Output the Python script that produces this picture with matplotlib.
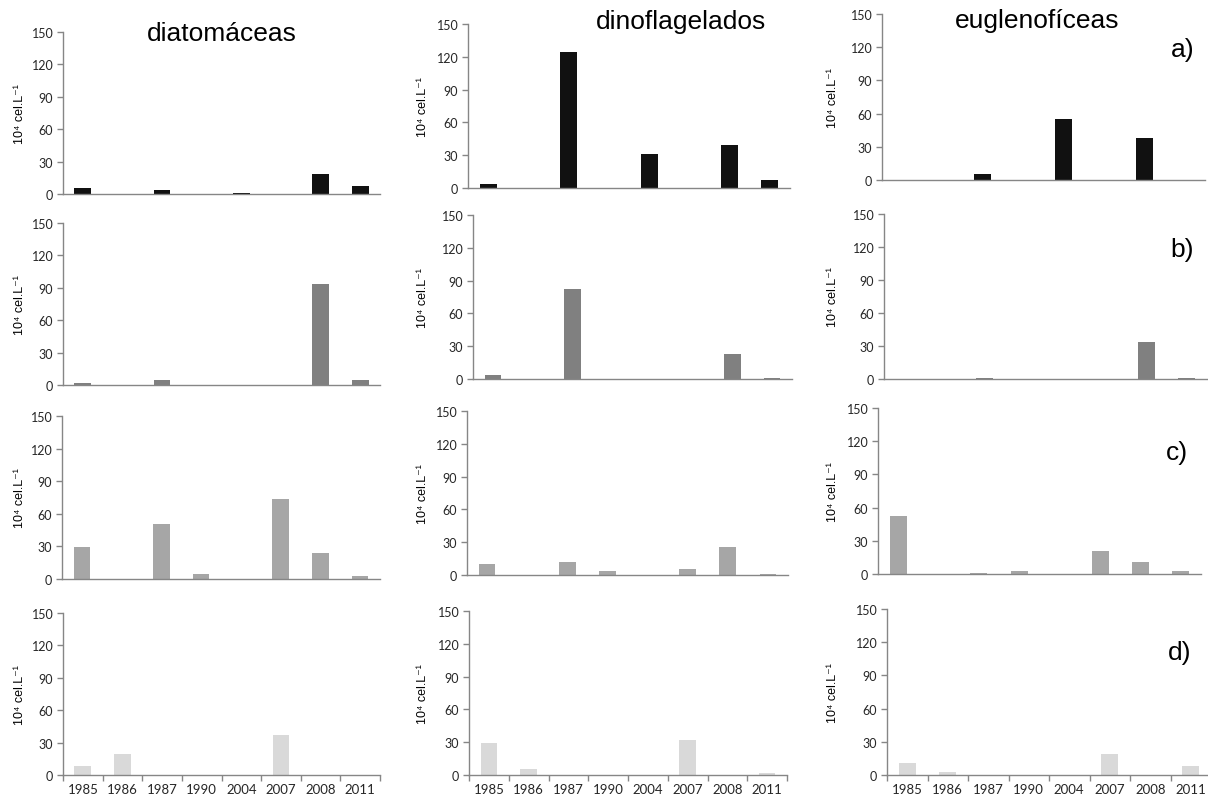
import numpy as np
import matplotlib
matplotlib.use("Agg")
import matplotlib.pyplot as plt

W, H = 1208, 803

years = ["1985", "1986", "1987", "1990", "2004", "2007", "2008", "2011"]
groups = ["diatomáceas", "dinoflagelados", "euglenofíceas"]
panel_tags = ["a)", "b)", "c)", "d)"]
row_colors = ["#111111", "#808080", "#a6a6a6", "#d9d9d9"]

# values in 10^4 cel.L-1, per row (a-d) and group
diato_a = [5.3, 0, 3.4, 0, 0.5, 0, 18.9, 7.1]
dino_a = [3.3, 0, 124.4, 0, 31.3, 0, 38.9, 7.0]
eugl_a = [0.3, 0, 5.4, 0, 55.1, 0, 38.0, 0.3]

diato_b = [1.5, 0, 4.3, 0, 0, 0, 93.2, 4.3]
dino_b = [3.3, 0, 82.1, 0, 0, 0, 22.8, 0.8]
eugl_b = [0.2, 0, 0.8, 0, 0, 0, 33.9, 0.8]

diato_c = [29.5, 0, 50.4, 4.6, 0, 73.8, 23.7, 2.5]
dino_c = [10.0, 0, 11.9, 3.4, 0, 5.2, 25.6, 0.8]
eugl_c = [52.5, 0, 1.2, 2.4, 0, 20.5, 10.9, 2.4]

diato_d = [8.6, 19.8, 0, 0, 0, 37.3, 0, 0.3]
dino_d = [29.5, 5.5, 0, 0, 0, 32.2, 0, 1.8]
eugl_d = [10.6, 2.7, 0, 0, 0, 19.0, 0, 8.5]

data = [
    [diato_a, dino_a, eugl_a],
    [diato_b, dino_b, eugl_b],
    [diato_c, dino_c, eugl_c],
    [diato_d, dino_d, eugl_d],
]

# pixel boxes of each plot area: (left, top at 150, right, bottom at 0)
boxes = [
    [(63, 33, 380, 195), (468, 25, 790, 189), (882, 15, 1205, 181)],
    [(63, 224, 380, 386), (473, 216, 792, 380), (884, 215, 1207, 380)],
    [(62, 417, 380, 580), (467, 412, 788, 576), (878, 409, 1201, 575)],
    [(63, 614, 380, 776), (469, 612, 787, 776), (887, 610, 1211, 776)],
]

tick_font = ["Lato", "DejaVu Sans"]
text_font = ["Liberation Sans", "DejaVu Sans"]
spine_col = "#868686"

fig = plt.figure(figsize=(W / 100, H / 100), dpi=100)

x = np.arange(len(years))
for r in range(4):
    for c in range(3):
        l, t, rr, b = boxes[r][c]
        ax = fig.add_axes([l / W, 1 - b / H, (rr - l) / W, (b - t) / H])
        ax.bar(x, data[r][c], width=0.42, color=row_colors[r], edgecolor="none")
        ax.set_xlim(-0.5, len(years) - 0.5)
        ax.set_ylim(0, 150)
        ax.set_yticks([0, 30, 60, 90, 120, 150])
        for s in ["top", "right"]:
            ax.spines[s].set_visible(False)
        for s in ["left", "bottom"]:
            ax.spines[s].set_color(spine_col)
            ax.spines[s].set_linewidth(1.0)
        ax.tick_params(axis="y", direction="out", length=4, width=1,
                       color=spine_col, labelsize=9, labelcolor="#262626", pad=3)
        for lab in ax.get_yticklabels():
            lab.set_family(tick_font)
        if r == 3:
            ax.set_xticks(x)
            ax.set_xticklabels(years)
            ax.set_xticks(np.arange(-0.5, len(years)), minor=True)
            ax.tick_params(axis="x", which="major", length=0, labelsize=9.5,
                           labelcolor="#262626", pad=6)
            ax.tick_params(axis="x", which="minor", direction="out", length=4,
                           width=1, color=spine_col)
            for lab in ax.get_xticklabels():
                lab.set_family(tick_font)
        else:
            ax.set_xticks([])

        # y label, placed left of the tick labels
        lx = [20, 423, 833][c]
        fig.text(lx / W, 1 - ((t + b) / 2) / H, "10⁴ cel.L⁻¹", rotation=90,
                 ha="center", va="center", fontsize=9, family=text_font)

# column titles
title_pos = [(222, 34), (681, 22), (1037, 21)]
for name, (tx, ty) in zip(groups, title_pos):
    fig.text(tx / W, 1 - ty / H, name, ha="center", va="center",
             fontsize=19, family=text_font)

# row tags on the right
tag_pos = [(1183, 50), (1182, 250), (1177, 453), (1180, 653)]
for tag, (tx, ty) in zip(panel_tags, tag_pos):
    fig.text(tx / W, 1 - ty / H, tag, ha="center", va="center",
             fontsize=19, family=text_font)

fig.savefig("out.png", dpi=100)
